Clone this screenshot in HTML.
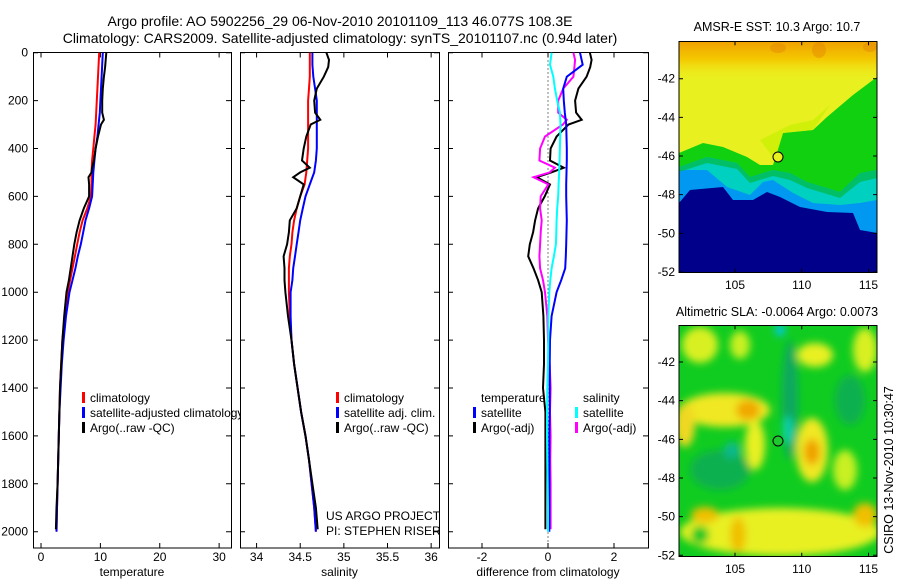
<!DOCTYPE html>
<html><head><meta charset="utf-8"><style>
body{margin:0;background:#fff;}
svg text{font-family:"Liberation Sans",sans-serif;fill:#000;}
</style></head><body>
<svg id="fig" width="900" height="580" viewBox="0 0 900 580" xmlns="http://www.w3.org/2000/svg">
<defs>
<filter id="blur" x="-20%" y="-20%" width="140%" height="140%"><feGaussianBlur stdDeviation="4"/></filter>
<linearGradient id="topgrad" x1="0" y1="0" x2="0" y2="1"><stop offset="0" stop-color="#f0a000"/><stop offset="0.45" stop-color="#f4c800"/><stop offset="1" stop-color="#f2ee20" stop-opacity="0"/></linearGradient>
<clipPath id="clip1"><rect x="679" y="41" width="198" height="232"/></clipPath>
<clipPath id="clip2"><rect x="679" y="325" width="198" height="232"/></clipPath>
</defs>
<text x="340" y="26" font-size="14" text-anchor="middle">Argo profile: AO 5902256_29 06-Nov-2010 20101109_113 46.077S 108.3E</text>
<text x="340" y="43" font-size="14" text-anchor="middle">Climatology: CARS2009. Satellite-adjusted climatology: synTS_20101107.nc (0.94d later)</text>

<!-- SST map -->
<g clip-path="url(#clip1)">
<rect x="679" y="41" width="198" height="232" fill="#00008a"/>
<polygon fill="#0098f0" points="679,41 877,41 877,233 860,230 853,213 827,212 800,207 780,197 767,192 753,200 733,200 723,187 690,190 679,203"/>
<polygon fill="#00d0c0" points="679,41 877,41 877,200 860,203 840,205 813,203 793,193 773,180 763,182 750,195 727,187 707,170 679,170"/>
<polygon fill="#10d010" points="679,41 877,41 877,170 860,173 840,192 807,182 790,173 773,170 750,177 737,163 707,157 679,167"/>
<polygon fill="#00b840" points="679,167 707,157 737,163 750,177 773,170 790,173 807,182 840,192 860,173 877,170 877,178 860,182 840,198 807,188 790,180 773,176 750,183 737,169 707,163 679,172" opacity="0.7"/>
<polygon fill="#e8f020" points="679,41 877,41 877,77 853,95 827,117 813,130 783,133 773,165 760,165 747,157 723,147 703,143 679,153"/>
<polygon fill="#c8f000" points="760,140 790,125 813,120 830,105 813,130 783,133 775,160" opacity="0.7"/>
<rect x="679" y="41" width="198" height="40" fill="url(#topgrad)"/>
<ellipse cx="778" cy="48" rx="8" ry="5" fill="#e08000" opacity="0.4"/>
<ellipse cx="819" cy="50" rx="7" ry="8" fill="#e08000" opacity="0.4"/>
<ellipse cx="870" cy="47" rx="7" ry="5" fill="#e08000" opacity="0.4"/>
</g>
<rect x="679" y="41.5" width="198" height="231" fill="none" stroke="#000" stroke-width="1"/>
<circle cx="778" cy="157" r="5" fill="#e8f020" stroke="#000"/>
<text x="777" y="31" font-size="12.5" text-anchor="middle">AMSR-E SST: 10.3 Argo: 10.7</text>

<!-- SLA map -->
<g clip-path="url(#clip2)">
<rect x="679" y="325" width="198" height="232" fill="#10cc20"/>
<g filter="url(#blur)">
<ellipse cx="700" cy="345" rx="18" ry="18" fill="#d8f020"/>
<ellipse cx="740" cy="345" rx="10" ry="14" fill="#c8f020"/>
<ellipse cx="815" cy="355" rx="18" ry="12" fill="#e8f020"/>
<ellipse cx="865" cy="350" rx="12" ry="22" fill="#d8f020"/>
<ellipse cx="725" cy="410" rx="45" ry="17" fill="#f0e820"/>
<ellipse cx="748" cy="410" rx="12" ry="10" fill="#f0a800"/>
<ellipse cx="685" cy="425" rx="10" ry="22" fill="#f0d820"/>
<ellipse cx="755" cy="445" rx="10" ry="25" fill="#e8f020"/>
<ellipse cx="812" cy="450" rx="16" ry="32" fill="#f0e820"/>
<ellipse cx="812" cy="452" rx="8" ry="13" fill="#f0a000"/>
<ellipse cx="845" cy="470" rx="12" ry="20" fill="#c8f020"/>
<ellipse cx="780" cy="532" rx="100" ry="24" fill="#e8f020"/>
<ellipse cx="705" cy="515" rx="14" ry="8" fill="#f0c000"/>
<ellipse cx="738" cy="535" rx="8" ry="18" fill="#f0c000"/>
<ellipse cx="865" cy="515" rx="12" ry="12" fill="#f0c000"/>
<ellipse cx="700" cy="535" rx="9" ry="9" fill="#10c828"/>
<ellipse cx="790" cy="400" rx="8" ry="60" fill="#10a860"/>
<ellipse cx="788" cy="430" rx="5" ry="14" fill="#10d0b0"/>
<ellipse cx="720" cy="470" rx="30" ry="20" fill="#10b050"/>
<ellipse cx="732" cy="450" rx="8" ry="8" fill="#10b890"/>
<ellipse cx="780" cy="330" rx="5" ry="6" fill="#00c8f0"/>
<ellipse cx="850" cy="400" rx="15" ry="25" fill="#10b050"/>
</g>
</g>
<rect x="679" y="325.5" width="198" height="231" fill="none" stroke="#000" stroke-width="1"/>
<circle cx="778" cy="441" r="5" fill="#20c830" stroke="#000"/>
<text x="777" y="316" font-size="12.5" text-anchor="middle">Altimetric SLA: -0.0064 Argo: 0.0073</text>
<text transform="translate(893,470) rotate(-90)" font-size="12.5" text-anchor="middle">CSIRO 13-Nov-2010 10:30:47</text>
<g id="maxes"></g>
<g id="panels"></g>
</svg>
<script>
// ---- data ----
const depths = [0,50,100,150,200,250,300,350,400,450,500,550,600,650,700,750,800,850,900,950,1000,1100,1200,1300,1400,1500,1600,1700,1800,1900,2000];
const argoDepths = [0,30,60,100,150,200,250,280,300,350,400,450,480,500,520,550,600,650,700,750,800,850,900,950,1000,1100,1200,1300,1400,1500,1600,1700,1800,1900,1990];
const climTemp = [9.8,9.7,9.6,9.5,9.4,9.3,9.2,9.0,8.8,8.6,8.5,8.5,8.4,7.8,7.0,6.5,6.1,5.7,5.3,4.9,4.5,4.0,3.6,3.4,3.2,3.1,3.0,2.9,2.8,2.7,2.6];
const satTemp = [10.4,10.3,10.2,10.1,10.0,9.9,9.7,9.5,9.2,9.0,8.8,8.7,8.6,8.1,7.5,7.1,6.7,6.2,5.8,5.3,4.8,4.2,3.8,3.5,3.3,3.1,3.0,2.9,2.8,2.7,2.6];
const argoTemp = [11.0,10.9,10.8,10.6,10.4,10.3,10.3,10.6,10.1,9.6,9.2,8.9,8.6,8.5,8.0,8.1,8.1,7.2,6.5,6.0,5.6,5.3,5.0,4.7,4.3,3.9,3.6,3.4,3.2,3.1,3.0,2.9,2.8,2.6,2.5];
const climSal = [34.61,34.61,34.61,34.60,34.59,34.59,34.59,34.59,34.59,34.58,34.57,34.55,34.50,34.46,34.43,34.41,34.40,34.38,34.37,34.37,34.37,34.38,34.40,34.43,34.47,34.51,34.56,34.60,34.63,34.66,34.68];
const satSal = [34.64,34.64,34.65,34.67,34.69,34.69,34.69,34.69,34.69,34.68,34.66,34.61,34.56,34.53,34.50,34.48,34.46,34.44,34.42,34.41,34.39,34.39,34.40,34.43,34.47,34.51,34.56,34.60,34.63,34.66,34.68];
const argoSal = [34.80,34.83,34.82,34.77,34.69,34.66,34.67,34.73,34.62,34.57,34.54,34.52,34.61,34.50,34.42,34.54,34.50,34.46,34.38,34.37,34.35,34.31,34.32,34.32,34.33,34.36,34.40,34.43,34.47,34.51,34.56,34.60,34.64,34.68,34.70];
const satTempDiff = [0.97,1.05,0.57,0.46,0.48,0.51,0.55,0.56,0.57,0.57,0.56,0.55,0.55,0.56,0.57,0.56,0.55,0.54,0.52,0.40,0.26,0.11,0.06,0.05,0.05,0.05,0.04,0.04,0.04,0.04,0.04];
const satSalDiff = [0.11,0.06,0.16,0.21,0.28,0.36,0.38,0.37,0.36,0.35,0.34,0.32,0.31,0.28,0.26,0.25,0.24,0.18,0.11,0.07,0.04,0.01,0.01,0.0,-0.02,-0.03,-0.03,-0.02,-0.01,0.0,0.0];
const argoTempDiff = [1.27,1.32,1.28,1.17,0.92,0.82,0.85,1.02,0.62,0.26,0.08,0.06,0.48,0.10,-0.34,0.06,-0.10,-0.30,-0.39,-0.45,-0.55,-0.60,-0.44,-0.30,-0.19,-0.14,-0.12,-0.12,-0.15,-0.08,-0.08,-0.08,-0.08,-0.08,-0.08];
const argoSalDiff = [0.77,0.82,0.80,0.77,0.46,0.31,0.31,0.57,0.45,-0.09,-0.24,-0.26,0.21,0.05,-0.44,0.01,-0.22,-0.24,-0.19,-0.22,-0.24,-0.26,-0.24,-0.15,-0.09,-0.02,0.0,0.05,0.08,0.06,0.08,0.07,0.08,0.08,0.08];
const depthTicks = [0,200,400,600,800,1000,1200,1400,1600,1800,2000];
const tempTicks = [0,10,20,30];
const salTicks = [34,34.5,35,35.5,36];
const diffTicks = [-2,0,2];
const latTicks = [-42,-44,-46,-48,-50,-52];
const lonTicks = [105,110,115];

const NS='http://www.w3.org/2000/svg';
const P=document.getElementById('panels');
function mk(tag,at,parent){const e=document.createElementNS(NS,tag);for(const k in at)e.setAttribute(k,at[k]);(parent||P).appendChild(e);return e;}
const yD=d=>52.7+d*0.2395;
const TOP=52.5,BOT=548;
const panels=[
 {x0:33,x1:231,min:-1.35,max:32,ticks:tempTicks,label:'temperature',name:'temperature-panel'},
 {x0:240,x1:439,min:33.81,max:36.09,ticks:salTicks,label:'salinity',name:'salinity-panel'},
 {x0:448,x1:648,min:-3.03,max:3.03,ticks:diffTicks,label:'difference from climatology',name:'difference-panel'}];
panels.forEach((p,i)=>{
  p.sx=v=>p.x0+(v-p.min)/(p.max-p.min)*(p.x1-p.x0);
  const f=mk('rect',{x:p.x0+.5,y:TOP,width:p.x1-p.x0,height:BOT-TOP,fill:'#fff',stroke:'#000','stroke-width':1});
  
  
  p.ticks.forEach(t=>{const x=p.sx(t);
    const l=mk('path',{d:`M${x},${TOP}v5M${x},${BOT}v-5`,stroke:'#000'});
    
    
    const tx=mk('text',{x:x,y:561,'font-size':12,'text-anchor':'middle'});tx.textContent=String(t);
    
    });
  const xl=mk('text',{x:(p.x0+p.x1)/2,y:576,'font-size':12,'text-anchor':'middle'});xl.textContent=p.label;
  
  
  depthTicks.forEach(d=>{const y=yD(d);
    const l=mk('path',{d:`M${p.x0},${y}h5M${p.x1},${y}h-5`,stroke:'#000'});
    
    
    if(i===0){const t=mk('text',{x:28,y:y+4,'font-size':12,'text-anchor':'end'});t.textContent=String(d);
      
      }
  });
});
const zl=mk('line',{x1:panels[2].sx(0),x2:panels[2].sx(0),y1:TOP,y2:BOT,stroke:'#000','stroke-dasharray':'1,3'});


function line(p,ds,vals,col,name){
  const pts=ds.map((d,k)=>p.sx(vals[k]).toFixed(1)+','+yD(d).toFixed(1)).join(' ');
  const e=mk('polyline',{points:pts,fill:'none',stroke:col,'stroke-width':2});
  
  
}
line(panels[0],depths,climTemp,'#f00','climatology-temperature-line');
line(panels[0],depths,satTemp,'#00f','satellite-temperature-line');
line(panels[0],argoDepths,argoTemp,'#000','argo-temperature-line');
line(panels[1],depths,climSal,'#f00','climatology-salinity-line');
line(panels[1],depths,satSal,'#00f','satellite-salinity-line');
line(panels[1],argoDepths,argoSal,'#000','argo-salinity-line');
line(panels[2],argoDepths,argoTempDiff,'#000','argo-temperature-diff-line');
line(panels[2],argoDepths,argoSalDiff,'#f0f','argo-salinity-diff-line');
line(panels[2],depths,satTempDiff,'#00f','satellite-temperature-diff-line');
line(panels[2],depths,satSalDiff,'#0ff','satellite-salinity-diff-line');

function legend(x,y,col,label){
  if(col){const b=mk('rect',{x:x,y:y-10,width:3,height:11,fill:col});
    
    }
  const t=mk('text',{x:x+8,y:y,'font-size':12});t.textContent=label;
  
  
}
legend(82,402,'#f00','climatology');
legend(82,417,'#00f','satellite-adjusted climatology');
legend(82,432,'#000','Argo(..raw -QC)');
const m=mk('rect',{x:240,y:405,width:8,height:17,fill:'#fff'});


const fl=mk('line',{x1:240.5,x2:240.5,y1:400,y2:425,stroke:'#000'});


legend(336,402,'#f00','climatology');
legend(336,417,'#00f','satellite adj. clim.');
legend(336,432,'#000','Argo(..raw -QC)');
legend(473,402,null,'temperature');
legend(473,417,'#00f','satellite');
legend(473,432,'#000','Argo(-adj)');
legend(575,402,null,'salinity');
legend(575,417,'#0ff','satellite');
legend(575,432,'#f0f','Argo(-adj)');
const c1=mk('text',{x:326,y:520,'font-size':12});c1.textContent='US ARGO PROJECT';


const c2=mk('text',{x:326,y:535,'font-size':12});c2.textContent='PI: STEPHEN RISER';



const MA=document.getElementById('maxes');
[{top:41.3,lat0:78.7,name:'sst'},{top:325.3,lat0:362,name:'sla'}].forEach(mp=>{
  const bottom=mp.top+231.5;
  latTicks.forEach(l=>{const y=mp.lat0+(-42-l)*19.33;
    const t=mk('path',{d:`M679,${y}h4M877,${y}h-4`,stroke:'#000'},MA);
    
    
    const tx=mk('text',{x:675,y:y+4,'font-size':12,'text-anchor':'end'},MA);tx.textContent=String(l);
    
    });
  lonTicks.forEach(l=>{const x=735+(l-105)*13.35;
    const t=mk('path',{d:`M${x},${mp.top}v4M${x},${bottom}v-4`,stroke:'#000'},MA);
    
    
    const tx=mk('text',{x:x,y:bottom+16,'font-size':12,'text-anchor':'middle'},MA);tx.textContent=String(l);
    
    });
});
</script>
</body></html>
